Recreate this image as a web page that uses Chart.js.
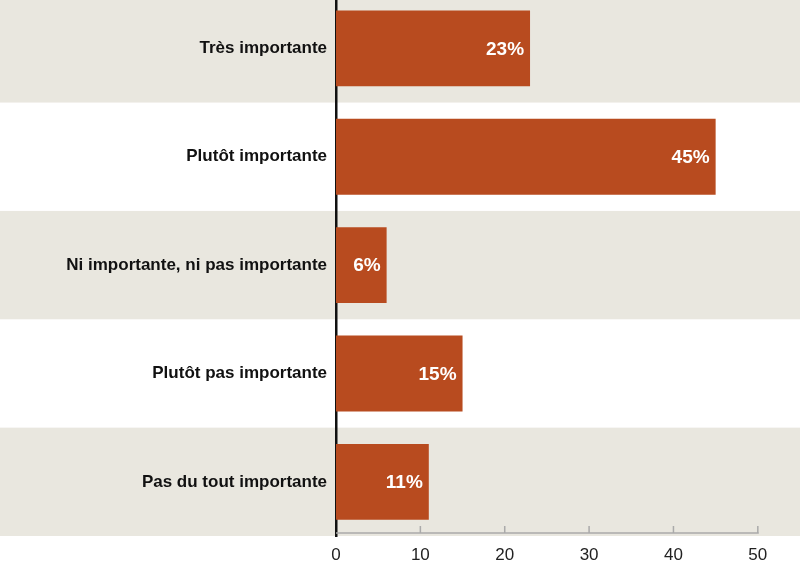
<!DOCTYPE html>
<html lang="fr">
<head>
    <meta charset="UTF-8">
    <title>Importance</title>
    <script src="https://cdn.jsdelivr.net/npm/chart.js"></script>
    <style>
        html, body { margin: 0; padding: 0; background: #fff; overflow: hidden; }
        #wrap { position: relative; width: 800px; height: 586px; margin-top: -17px; }
    </style>
</head>
<body>
    <div id="wrap"><canvas id="bars"></canvas></div>

    <script>
        const categories = [
            'Très importante',
            'Plutôt importante',
            'Ni importante, ni pas importante',
            'Plutôt pas importante',
            'Pas du tout importante'
        ];
        const percents = [23, 45, 6, 15, 11];
        const xTicks = [0, 10, 20, 30, 40, 50];

        const barColor = '#b84b1f';
        const bandColor = '#e9e7df';
        const labelFont = 'bold 19px "Liberation Sans", Arial, sans-serif';

        // alternating grey / white row bands across the whole width
        const bands = {
            id: 'bands',
            beforeDraw(chart) {
                const c = chart.ctx, y = chart.scales.y, area = chart.chartArea;
                const step = (y.getPixelForValue(1) - y.getPixelForValue(0));
                c.save();
                c.fillStyle = bandColor;
                categories.forEach((_, i) => {
                    if (i % 2) return;
                    const mid = y.getPixelForValue(i);
                    let top = mid - step / 2, bot = mid + step / 2;
                    if (i === 0) top = 0;
                    c.fillRect(0, top, area.right, bot - top);
                });
                c.restore();
            }
        };

        // value labels inside bars + small ticks on x axis
        const extras = {
            id: 'extras',
            afterDatasetsDraw(chart) {
                const c = chart.ctx;
                const meta = chart.getDatasetMeta(0);
                c.save();
                c.font = labelFont;
                c.fillStyle = '#fff';
                c.textAlign = 'right';
                c.textBaseline = 'middle';
                meta.data.forEach((bar, i) => {
                    c.fillText(percents[i] + '%', bar.x - 6, bar.y + 1);
                });
                const x = chart.scales.x, base = chart.chartArea.bottom - 3;
                c.strokeStyle = '#aaa';
                c.lineWidth = 1.5;
                c.beginPath();
                c.moveTo(chart.chartArea.left, base);
                c.lineTo(x.getPixelForValue(50) + 1, base);
                xTicks.forEach(t => {
                    if (t === 0) return;
                    const px = x.getPixelForValue(t);
                    c.moveTo(px, base);
                    c.lineTo(px, base - 7);
                });
                c.stroke();
                c.restore();
            }
        };

        new Chart(document.getElementById('bars'), {
            type: 'bar',
            data: {
                labels: categories,
                datasets: [{
                    data: percents,
                    backgroundColor: barColor,
                    barPercentage: 0.7,
                    categoryPercentage: 1
                }]
            },
            options: {
                indexAxis: 'y',
                responsive: true,
                maintainAspectRatio: false,
                animation: false,
                layout: { padding: 0 },
                scales: {
                    x: {
                        min: 0,
                        max: 55,
                        afterBuildTicks(s) { s.ticks = xTicks.map(v => ({ value: v })); },
                        afterFit(s) { s.height = 33; },
                        grid: { display: false },
                        border: { display: false },
                        ticks: {
                            color: '#222',
                            padding: 1,
                            font: { family: '"Liberation Sans", Arial, sans-serif', size: 17 }
                        }
                    },
                    y: {
                        afterFit(s) { s.width = 336; },
                        grid: { display: false },
                        border: { color: '#111', width: 2.5 },
                        ticks: {
                            color: '#111',
                            padding: 1,
                            font: { family: '"Liberation Sans", Arial, sans-serif', size: 17, weight: 'bold' }
                        }
                    }
                },
                plugins: {
                    legend: { display: false },
                    tooltip: { enabled: false }
                }
            },
            plugins: [bands, extras]
        });
    </script>
</body>
</html>
